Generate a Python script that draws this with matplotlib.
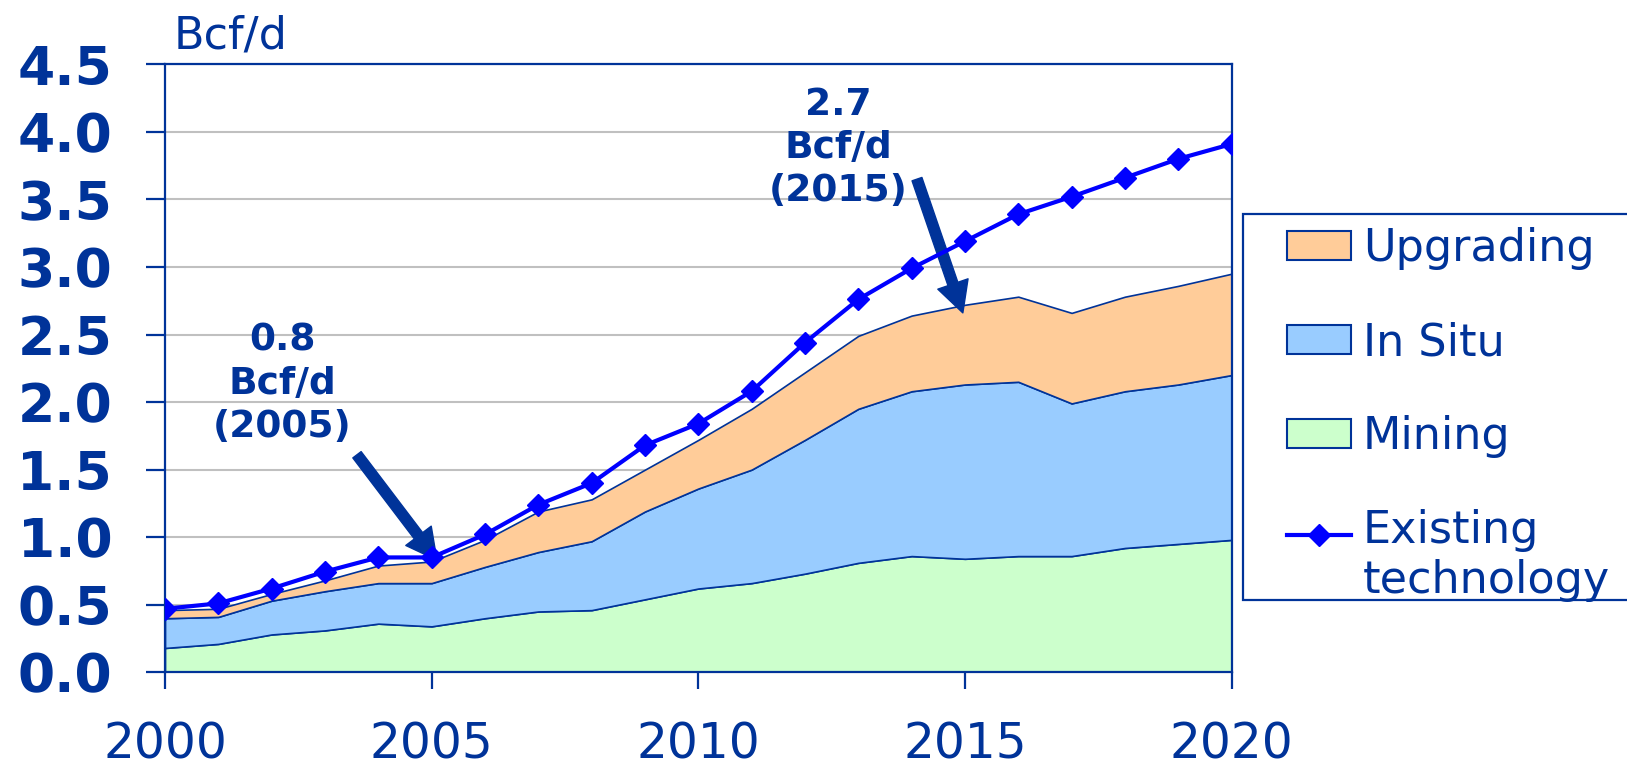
import matplotlib
matplotlib.use("Agg")
import matplotlib.pyplot as plt
import numpy as np
from matplotlib.patches import Patch, Rectangle
from matplotlib.lines import Line2D
from matplotlib.legend_handler import HandlerLine2D

# data (Bcf/d)
years = np.arange(2000, 2021)
mining = [0.18, 0.21, 0.28, 0.31, 0.36, 0.34, 0.40, 0.45, 0.46, 0.54, 0.62,
          0.66, 0.73, 0.81, 0.86, 0.84, 0.86, 0.86, 0.92, 0.95, 0.98]
in_situ = [0.22, 0.20, 0.25, 0.29, 0.30, 0.32, 0.38, 0.44, 0.51, 0.65, 0.74,
           0.84, 0.99, 1.14, 1.22, 1.29, 1.29, 1.13, 1.16, 1.18, 1.22]
upgrading = [0.06, 0.06, 0.05, 0.08, 0.13, 0.16, 0.20, 0.30, 0.31, 0.31, 0.36,
             0.45, 0.50, 0.54, 0.56, 0.59, 0.63, 0.67, 0.70, 0.73, 0.75]
existing = [0.47, 0.51, 0.62, 0.745, 0.85, 0.85, 1.02, 1.24, 1.40, 1.68, 1.84,
            2.08, 2.44, 2.76, 2.99, 3.19, 3.39, 3.52, 3.66, 3.80, 3.91]

x_ticks = [2000, 2005, 2010, 2015, 2020]
y_ticks = np.arange(0, 4.51, 0.5)

navy = "#003399"
c_up, c_is, c_mi = "#FFCC99", "#99CCFF", "#CCFFCC"


class FirstLineHandler(HandlerLine2D):
    # put the legend line next to the first line of a two-line label
    def create_artists(self, legend, orig_handle, xdescent, ydescent,
                       width, height, fontsize, trans):
        arts = super().create_artists(legend, orig_handle, xdescent, ydescent,
                                      width, height, fontsize, trans)
        for a in arts:
            a.set_ydata(np.asarray(a.get_ydata()) + 0.5 * fontsize)
        return arts


fig = plt.figure(figsize=(16.27, 7.70), dpi=100)
ax = fig.add_axes([0.1014, 0.1269, 0.6556, 0.7896])

ax.stackplot(years, mining, in_situ, upgrading, colors=[c_mi, c_is, c_up],
             edgecolor=navy, linewidth=1.2, zorder=2)
ax.plot(years, existing, color="#0000FF", lw=3, marker="D", ms=11, zorder=4)

ax.set_xlim(2000, 2020)
ax.set_ylim(0, 4.5)
ax.set_xticks(x_ticks)
ax.set_yticks(y_ticks)
ax.set_yticklabels([f"{v:.1f}" for v in y_ticks])
ax.yaxis.grid(True, color="#C0C0C0", lw=1.5, zorder=0)
ax.set_axisbelow(True)

for s in ax.spines.values():
    s.set_color(navy)
    s.set_linewidth(1.6)

ax.tick_params(axis="y", length=14, width=1.6, color=navy, pad=24,
               labelsize=38.5, labelcolor=navy)
ax.tick_params(axis="x", length=12, width=1.6, color=navy, pad=23,
               labelsize=35, labelcolor=navy)
for lab in ax.get_yticklabels():
    lab.set_fontweight("bold")

fig.text(174 / 1627, 1 - 36 / 770, "Bcf/d", fontsize=32, color=navy,
         ha="left", va="center")

# call-outs
ax.text(2002.2, 2.135, "0.8\nBcf/d\n(2005)", ha="center", va="center",
        fontsize=27, fontweight="bold", color=navy, linespacing=1.25)
ax.annotate("", xy=(2005.1, 0.83), xytext=(2003.6, 1.61),
            arrowprops=dict(facecolor=navy, edgecolor=navy, width=7.5,
                            headwidth=23, headlength=22))
ax.text(2012.63, 3.88, "2.7\nBcf/d\n(2015)", ha="center", va="center",
        fontsize=27, fontweight="bold", color=navy, linespacing=1.25)
ax.annotate("", xy=(2014.96, 2.66), xytext=(2014.1, 3.65),
            arrowprops=dict(facecolor=navy, edgecolor=navy, width=7.5,
                            headwidth=23, headlength=22))

# legend: frame drawn separately so it can run off the right edge
fig.patches.append(Rectangle((1243 / 1627, 1 - 600 / 770), 0.3, 386 / 770,
                             transform=fig.transFigure, facecolor="white",
                             edgecolor=navy, lw=1.6, zorder=0))
handles = [Patch(facecolor=c_up, edgecolor=navy, lw=1.5),
           Patch(facecolor=c_is, edgecolor=navy, lw=1.5),
           Patch(facecolor=c_mi, edgecolor=navy, lw=1.5),
           Line2D([], [], color="#0000FF", lw=3, marker="D", ms=11)]
labels = ["Upgrading", "In Situ", "Mining", "Existing\ntechnology"]
leg = fig.legend(handles, labels, loc="upper left",
                 bbox_to_anchor=(1287 / 1627, 1 - 227 / 770),
                 fontsize=32, frameon=False, handlelength=1.45,
                 handleheight=0.63, handletextpad=0.26, labelspacing=1.15,
                 borderpad=0, borderaxespad=0,
                 handler_map={Line2D: FirstLineHandler()})
for t in leg.get_texts():
    t.set_color(navy)

fig.savefig("out.png", dpi=100)
